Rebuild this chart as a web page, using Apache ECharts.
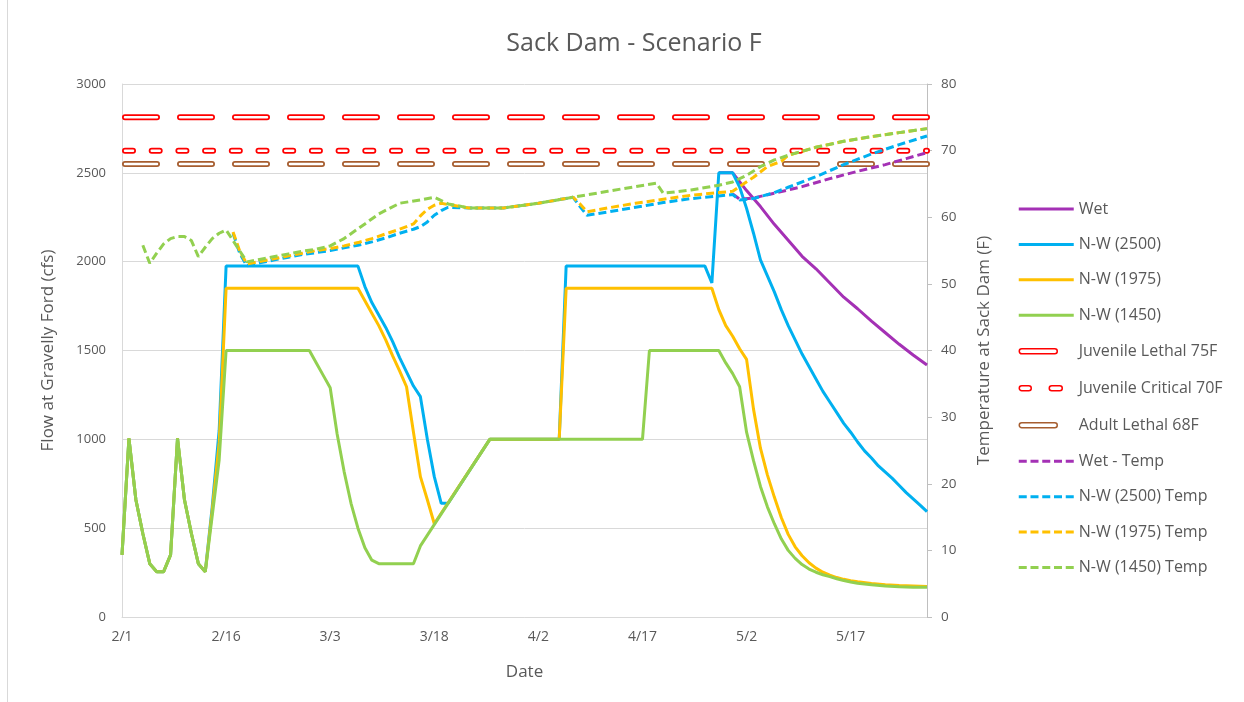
<!DOCTYPE html>
<html>
<head>
<meta charset="utf-8">
<title>Sack Dam - Scenario F</title>
<script src="https://cdn.jsdelivr.net/npm/echarts@6/dist/echarts.min.js"></script>
<style>
  html, body { margin: 0; padding: 0; background: #fff; }
  #chart { width: 1244px; height: 702px; }
  .frame-left { position: absolute; left: 7px; top: 0; width: 1px; height: 702px; background: #d9d9d9; }
</style>
</head>
<body>
<div id="chart"></div>
<div class="frame-left"></div>
<script>
  // x = days since 2/1
  const tickLabels = ['2/1', '2/16', '3/3', '3/18', '4/2', '4/17', '5/2', '5/17']
  const lastDay = 116

  // flow at Gravelly Ford (cfs)
  const wetFlow = [[86, 2500], [88, 2500], [90, 2400], [92, 2310], [94, 2210], [96, 2120], [98, 2030], [100, 1960],
    [102, 1880], [104, 1800], [106, 1735], [108, 1665], [110, 1600], [112, 1535], [114, 1475], [116, 1418]]
  const nw2500Flow = [[0, 350], [1, 1005], [2, 660], [3, 470], [4, 300], [5, 255], [6, 255], [7, 350], [8, 1005], [9, 660],
    [10, 470], [11, 300], [12, 255], [13, 620], [14, 1050], [15, 1975], [34, 1975], [35, 1860], [36, 1770], [37, 1700],
    [38, 1630], [39, 1550], [40, 1460], [41, 1380], [42, 1300], [43, 1240], [44, 1000], [45, 790], [46, 640], [47, 640],
    [53, 1000], [63, 1000], [64, 1975], [84, 1975], [85, 1880], [86, 2500], [88, 2500], [89, 2420], [90, 2300], [91, 2160],
    [92, 2010], [93, 1920], [94, 1830], [95, 1730], [96, 1640], [97, 1560], [98, 1480], [99, 1410], [100, 1340], [101, 1270],
    [102, 1210], [103, 1150], [104, 1090], [105, 1040], [106, 985], [107, 935], [108, 895], [109, 850], [110, 815],
    [111, 780], [112, 740], [113, 700], [114, 665], [115, 630], [116, 593]]
  const nw1975Flow = [[0, 350], [1, 1005], [2, 660], [3, 470], [4, 300], [5, 255], [6, 255], [7, 350], [8, 1005], [9, 660],
    [10, 470], [11, 300], [12, 255], [13, 600], [14, 980], [15, 1850], [34, 1850], [35, 1780], [36, 1710], [37, 1640],
    [38, 1560], [39, 1470], [40, 1385], [41, 1296], [42, 1040], [43, 790], [44, 660], [45, 525], [53, 1000], [63, 1000],
    [64, 1850], [85, 1850], [86, 1730], [87, 1640], [88, 1580], [89, 1510], [90, 1450], [91, 1170], [92, 950], [93, 800],
    [94, 675], [95, 560], [96, 465], [97, 395], [98, 345], [99, 305], [100, 275], [101, 252], [102, 235], [103, 222],
    [104, 212], [105, 204], [106, 198], [108, 188], [110, 181], [112, 177], [114, 174], [116, 171]]
  const nw1450Flow = [[0, 350], [1, 1005], [2, 660], [3, 470], [4, 300], [5, 255], [6, 255], [7, 350], [8, 1005], [9, 660],
    [10, 470], [11, 300], [12, 255], [13, 570], [14, 884], [15, 1500], [27, 1500], [28, 1430], [29, 1360], [30, 1290],
    [31, 1030], [32, 820], [33, 640], [34, 500], [35, 390], [36, 320], [37, 300], [42, 300], [43, 400], [53, 1000],
    [75, 1000], [76, 1500], [86, 1500], [87, 1430], [88, 1370], [89, 1296], [90, 1040], [91, 880], [92, 735], [93, 620],
    [94, 525], [95, 440], [96, 375], [97, 330], [98, 295], [99, 270], [100, 252], [101, 238], [102, 227], [103, 215],
    [104, 205], [105, 197], [106, 190], [108, 181], [110, 174], [112, 170], [114, 168], [116, 167]]

  // temperature at Sack Dam (F)
  const juvenileLethal = 75
  const juvenileCritical = 70
  const adultLethal = 68
  const wetTemp = [[88, 63.5], [89, 62.7], [91, 62.9], [94, 63.6], [98, 64.6], [102, 65.8], [106, 66.9], [110, 67.9],
    [113, 68.8], [116, 69.7]]
  const nw2500Temp = [[16, 57.6], [17, 54.5], [18, 52.7], [20, 53.2], [22, 53.6], [24, 54.0], [26, 54.4], [28, 54.7],
    [30, 55.0], [32, 55.4], [34, 55.8], [36, 56.3], [38, 56.9], [40, 57.6], [42, 58.2], [43, 58.6], [44, 59.3], [45, 60.3],
    [46, 61.0], [47, 61.5], [50, 61.4], [55, 61.4], [60, 62.1], [65, 63.0], [66, 61.6], [67, 60.3], [70, 60.8], [74, 61.5],
    [78, 62.2], [82, 62.8], [86, 63.2], [88, 63.4], [89, 62.6], [91, 62.8], [94, 63.7], [96, 64.5], [100, 66.1],
    [104, 67.9], [108, 69.5], [112, 70.9], [116, 72.2]]
  const nw1975Temp = [[16, 57.8], [17, 54.8], [18, 53.0], [20, 53.4], [22, 53.8], [24, 54.2], [26, 54.6], [28, 55.0],
    [30, 55.3], [32, 55.7], [34, 56.2], [36, 56.8], [38, 57.5], [40, 58.2], [42, 59.0], [43, 60.2], [44, 61.2], [45, 61.8],
    [46, 62.1], [47, 61.9], [50, 61.4], [55, 61.4], [60, 62.1], [65, 63.0], [66, 62.0], [67, 60.8], [70, 61.4], [74, 62.1],
    [78, 62.7], [82, 63.3], [86, 63.7], [88, 63.9], [89, 64.6], [91, 66.0], [93, 67.6], [95, 68.4], [96, 69.3],
    [100, 70.5], [104, 71.4], [108, 72.1], [112, 72.7], [116, 73.3]]
  const nw1450Temp = [[3, 55.8], [4, 53.1], [5, 54.6], [6, 56.0], [7, 56.8], [8, 57.1], [9, 57.1], [10, 56.5], [11, 54.1],
    [12, 55.5], [13, 56.8], [14, 57.6], [15, 58.1], [16, 56.5], [17, 54.9], [18, 53.3], [20, 53.7], [22, 54.1], [24, 54.5],
    [26, 54.9], [28, 55.2], [30, 55.7], [32, 56.8], [35, 59.0], [37, 60.5], [40, 62.1], [43, 62.6], [45, 63.0], [47, 62.0],
    [50, 61.4], [55, 61.4], [60, 62.1], [65, 63.0], [70, 63.9], [74, 64.6], [77, 65.1], [78, 63.6], [82, 64.1], [86, 64.8],
    [88, 65.3], [90, 66.3], [92, 67.6], [94, 68.6], [96, 69.3], [100, 70.5], [104, 71.4], [108, 72.1], [112, 72.7],
    [116, 73.3]]

  const txt = '#595959'
  const font = 'Open Sans'

  function flowLine(name, data, color) {
    return {
      name: name, type: 'line', yAxisIndex: 0, data: data, symbol: 'none', showSymbol: false,
      lineStyle: { color: color, width: 3 }, itemStyle: { color: color }, z: 3
    }
  }
  function tempLine(name, data, color) {
    return {
      name: name, type: 'line', yAxisIndex: 1, data: data, symbol: 'none', showSymbol: false,
      lineStyle: { color: color, width: 3, type: [8, 4] }, itemStyle: { color: color }, z: 4
    }
  }
  // hollow dashed threshold: thick outer dash + thin white core
  function threshold(name, value, color, dash) {
    let data = [[0, value], [lastDay, value]]
    return [
      {
        name: name, type: 'line', yAxisIndex: 1, data: data, symbol: 'none', z: 2,
        lineStyle: { color: color, width: 6, type: dash, cap: 'round', dashOffset: -3 }, itemStyle: { color: color }
      },
      {
        name: name + ' core', type: 'line', yAxisIndex: 1, data: data, symbol: 'none', z: 2,
        lineStyle: { color: '#fff', width: 2.5, type: dash, cap: 'round', dashOffset: -3 }, silent: true
      }
    ]
  }

  // legend icons, 55 x 16 boxes (corner points keep the box size)
  const box = ' M0,0 L0,0 M55,16 L55,16'
  const solidIcon = 'path://M0,6.5 H55 V9.5 H0 Z' + box
  const dashIcon = 'path://M0,6.5 H8 V9.5 H0 Z M11.75,6.5 H19.75 V9.5 H11.75 Z M23.5,6.5 H31.5 V9.5 H23.5 Z' +
    ' M35.25,6.5 H43.25 V9.5 H35.25 Z M47,6.5 H55 V9.5 H47 Z' + box
  const longDash = 'path://M3,5.5 H36 A2.5,2.5 0 0 1 36,10.5 H3 A2.5,2.5 0 0 1 3,5.5 Z' + box
  const shortDash = 'path://M3,5.5 H10 A2.5,2.5 0 0 1 10,10.5 H3 A2.5,2.5 0 0 1 3,5.5 Z' +
    ' M33,5.5 H41 A2.5,2.5 0 0 1 41,10.5 H33 A2.5,2.5 0 0 1 33,5.5 Z' + box

  function lineItem(name, icon) {
    return { name: name, icon: icon, itemStyle: { borderWidth: 0 } }
  }
  function hollowItem(name, icon, color) {
    return { name: name, icon: icon, itemStyle: { color: '#fff', borderColor: color, borderWidth: 1.5 } }
  }

  let chart = echarts.init(document.getElementById('chart'), null, { renderer: 'canvas' })
  chart.setOption({
    animation: false,
    textStyle: { fontFamily: font, color: txt },
    title: {
      text: 'Sack Dam - Scenario F',
      left: 629, top: 26, textAlign: 'center',
      textStyle: { fontFamily: font, fontSize: 25, fontWeight: 'normal', color: txt }
    },
    grid: { left: 122, right: 317, top: 84, bottom: 85 },
    legend: {
      orient: 'vertical', left: 1013, top: 196,
      itemWidth: 55, itemHeight: 16, itemGap: 19.4,
      textStyle: { fontFamily: font, fontSize: 16, lineHeight: 16, color: txt },
      data: [
        lineItem('Wet', solidIcon),
        lineItem('N-W (2500)', solidIcon),
        lineItem('N-W (1975)', solidIcon),
        lineItem('N-W (1450)', solidIcon),
        hollowItem('Juvenile Lethal 75F', longDash, '#ff0000'),
        hollowItem('Juvenile Critical 70F', shortDash, '#ff0000'),
        hollowItem('Adult Lethal 68F', longDash, '#a65d2f'),
        lineItem('Wet - Temp', dashIcon),
        lineItem('N-W (2500) Temp', dashIcon),
        lineItem('N-W (1975) Temp', dashIcon),
        lineItem('N-W (1450) Temp', dashIcon)
      ]
    },
    xAxis: {
      type: 'value', min: 0, max: lastDay, interval: 15,
      name: 'Date', nameLocation: 'middle', nameGap: 47,
      nameTextStyle: { fontFamily: font, fontSize: 17, color: txt },
      axisLine: { lineStyle: { color: '#d9d9d9' } },
      axisTick: { show: false },
      splitLine: { show: false },
      axisLabel: {
        fontFamily: font, fontSize: 14, color: txt, margin: 13,
        formatter: function(v) {
          return v % 15 === 0 ? (tickLabels[v / 15] || '') : ''
        }
      }
    },
    yAxis: [
      {
        type: 'value', min: 0, max: 3000, interval: 500,
        name: 'Flow at Gravelly Ford (cfs)', nameLocation: 'middle', nameGap: 65, nameRotate: 90,
        nameTextStyle: { fontFamily: font, fontSize: 17, color: txt },
        axisLine: { show: true, lineStyle: { color: '#d9d9d9' } },
        axisTick: { show: false },
        splitLine: { lineStyle: { color: '#d9d9d9', width: 1 } },
        axisLabel: {
          fontFamily: font, fontSize: 13, color: txt, margin: 16,
          formatter: function(v) { return String(v) }
        }
      },
      {
        type: 'value', min: 0, max: 80, interval: 10, position: 'right',
        name: 'Temperature at Sack Dam (F)', nameLocation: 'middle', nameGap: 49, nameRotate: 90,
        nameTextStyle: { fontFamily: font, fontSize: 17, color: txt },
        axisLine: { show: true, lineStyle: { color: '#bfbfbf' } },
        axisTick: { show: true, length: 5, lineStyle: { color: '#bfbfbf' } },
        splitLine: { show: false },
        axisLabel: { fontFamily: font, fontSize: 13.5, color: txt, margin: 14 }
      }
    ],
    series: [
      flowLine('Wet', wetFlow, '#a431b5'),
      flowLine('N-W (2500)', nw2500Flow, '#00b0f0'),
      flowLine('N-W (1975)', nw1975Flow, '#ffc000'),
      flowLine('N-W (1450)', nw1450Flow, '#92d050'),
      ...threshold('Juvenile Lethal 75F', juvenileLethal, '#ff0000', [32, 23]),
      ...threshold('Juvenile Critical 70F', juvenileCritical, '#ff0000', [8, 18.7]),
      ...threshold('Adult Lethal 68F', adultLethal, '#a65d2f', [32, 23]),
      tempLine('Wet - Temp', wetTemp, '#a431b5'),
      tempLine('N-W (2500) Temp', nw2500Temp, '#00b0f0'),
      tempLine('N-W (1975) Temp', nw1975Temp, '#ffc000'),
      tempLine('N-W (1450) Temp', nw1450Temp, '#92d050')
    ]
  })
</script>
</body>
</html>
